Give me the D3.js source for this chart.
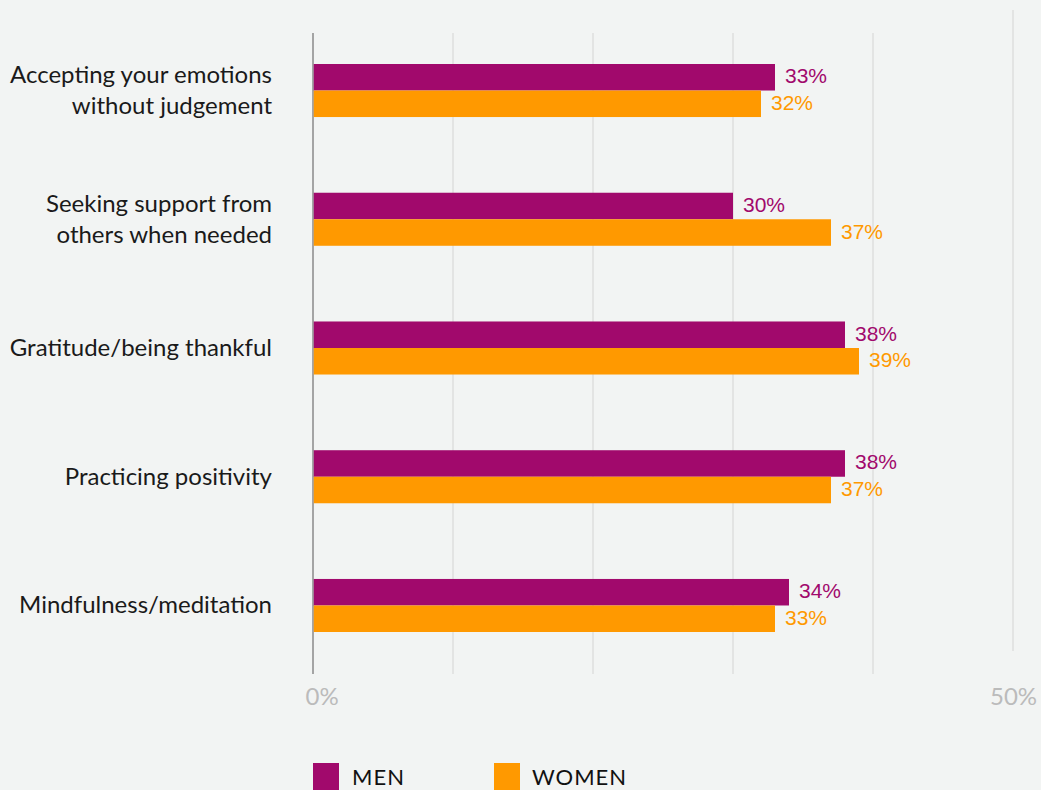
<!DOCTYPE html>
<html lang="en">

<head>
    <meta charset="utf-8">
    <title>D3: grouped horizontal bars, men vs women</title>
    <script src="https://d3js.org/d3.v7.min.js"></script>
    <style type="text/css">
        html, body { margin: 0; padding: 0; background: #f2f4f3; }
        svg { display: block; }
    </style>
</head>

<body>
    <script type="text/javascript">

        // data
        var categories = [
            ["Accepting your emotions", "without judgement"],
            ["Seeking support from", "others when needed"],
            ["Gratitude/being thankful"],
            ["Practicing positivity"],
            ["Mindfulness/meditation"]
        ];
        var men = [33, 30, 38, 38, 34];
        var women = [32, 37, 39, 37, 33];
        var seriesNames = ["MEN", "WOMEN"];
        var tickValues = [0, 50];

        var w = 1041,
            h = 790,
            x0 = 313,
            colors = ["#a1096c", "#ff9900"];

        var keys = categories.map(function (c) { return c.join(" "); });
        var db = keys.map(function (k, i) {
            return { key: k, lines: categories[i], values: [men[i], women[i]] };
        });

        var svg = d3.select("body")
            .append("svg")
            .attr("width", w)
            .attr("height", h);

        var xScale = d3.scaleLinear()
            .domain([0, 50])
            .range([x0, 1013]);

        var yScale = d3.scaleBand()
            .domain(keys)
            .range([64, 632])
            .paddingInner(0.588)
            .paddingOuter(0);

        var subScale = d3.scaleBand()
            .domain([0, 1])
            .range([0, yScale.bandwidth()]);

        // gridlines
        svg.selectAll("line.grid")
            .data(xScale.ticks(5).filter(function (d) { return d > 0; }))
            .enter()
            .append("line")
            .attr("class", "grid")
            .attr("x1", function (d) { return xScale(d); })
            .attr("x2", function (d) { return xScale(d); })
            .attr("y1", function (d) { return d === 50 ? 10 : 33; })
            .attr("y2", function (d) { return d === 50 ? 651 : 674; })
            .attr("stroke", "#dedfde")
            .attr("stroke-width", 1.5);

        // zero line
        svg.append("line")
            .attr("x1", xScale(0))
            .attr("x2", xScale(0))
            .attr("y1", 33)
            .attr("y2", 674)
            .attr("stroke", "#8a8a8a")
            .attr("stroke-width", 1.5);

        // bars
        var groups = svg.selectAll("g.group")
            .data(db)
            .enter()
            .append("g")
            .attr("class", "group")
            .attr("transform", function (d) {
                return "translate(0," + yScale(d.key) + ")";
            });

        groups.selectAll("rect")
            .data(function (d) { return d.values; })
            .enter()
            .append("rect")
            .attr("x", xScale(0) + 0.75)
            .attr("y", function (d, i) { return subScale(i); })
            .attr("width", function (d) { return xScale(d) - xScale(0) - 0.75; })
            .attr("height", subScale.bandwidth())
            .attr("fill", function (d, i) { return colors[i]; });

        groups.selectAll("text.value")
            .data(function (d) { return d.values; })
            .enter()
            .append("text")
            .attr("class", "value")
            .attr("x", function (d) { return xScale(d) + 10; })
            .attr("y", function (d, i) { return subScale(i) + subScale.bandwidth() / 2 + 6; })
            .attr("font-family", "'Liberation Sans', Arial, sans-serif")
            .attr("font-size", "21px")
            .attr("fill", function (d, i) { return colors[i]; })
            .text(function (d) { return d + "%"; });

        // category labels
        groups.append("text")
            .attr("class", "cat")
            .attr("text-anchor", "end")
            .attr("font-family", "Lato, sans-serif")
            .attr("font-size", "24px")
            .attr("fill", "#1a1a1a")
            .selectAll("tspan")
            .data(function (d) { return d.lines; })
            .enter()
            .append("tspan")
            .attr("x", x0 - 41)
            .attr("y", function (d, i, nodes) {
                var n = nodes.length;
                return yScale.bandwidth() / 2 + 8 + (i - (n - 1) / 2) * 31;
            })
            .text(function (d) { return d; });

        // x axis labels
        var xAxis = d3.axisBottom(xScale)
            .tickValues(tickValues)
            .tickSize(0)
            .tickPadding(0)
            .tickFormat(function (d) { return d + "%"; });

        var axisG = svg.append("g")
            .attr("transform", "translate(0,688)")
            .call(xAxis);
        axisG.select(".domain").remove();
        axisG.selectAll("text")
            .attr("font-family", "Lato, sans-serif")
            .attr("font-size", "24px")
            .attr("fill", "#bbbbbb")
            .attr("dy", "0.71em");
        axisG.selectAll(".tick").filter(function (d) { return d === 0; })
            .select("text")
            .attr("text-anchor", "start")
            .attr("x", -8);

        // legend
        var legend = svg.selectAll("g.legend")
            .data(seriesNames)
            .enter()
            .append("g")
            .attr("class", "legend")
            .attr("transform", function (d, i) {
                return "translate(" + (313 + i * 181) + ",763)";
            });
        legend.append("rect")
            .attr("width", 26)
            .attr("height", 30)
            .attr("fill", function (d, i) { return colors[i]; });
        legend.append("text")
            .attr("x", function (d, i) { return i === 0 ? 39 : 38; })
            .attr("y", 22)
            .attr("font-family", "Lato, sans-serif")
            .attr("font-size", "22px")
            .attr("letter-spacing", "1px")
            .attr("fill", "#111")
            .text(function (d) { return d; });

    </script>
</body>

</html>
